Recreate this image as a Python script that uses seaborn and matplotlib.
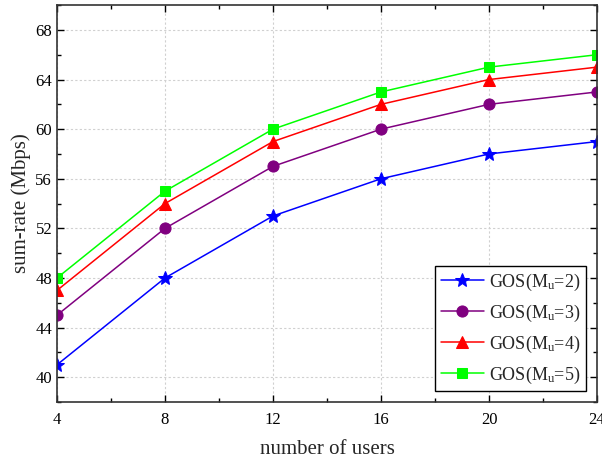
import matplotlib
matplotlib.use("Agg")
import matplotlib.pyplot as plt
import seaborn as sns
import pandas as pd
from matplotlib.ticker import MultipleLocator

users = [4, 8, 12, 16, 20, 24]
mu2 = [41, 48, 53, 56, 58, 59]
mu3 = [45, 52, 57, 60, 62, 63]
mu4 = [47, 54, 59, 62, 64, 65]
mu5 = [48, 55, 60, 63, 65, 66]
labels = ["GOS(M$_\\mathregular{u}$=2)", "GOS(M$_\\mathregular{u}$=3)",
          "GOS(M$_\\mathregular{u}$=4)", "GOS(M$_\\mathregular{u}$=5)"]
colors = ["#0000ff", "#800080", "#ff0000", "#00ff00"]
markers = ["*", "o", "^", "s"]
sizes = [10, 8, 8, 7]

rows = []
for lab, vals in zip(labels, [mu2, mu3, mu4, mu5]):
    for x, y in zip(users, vals):
        rows.append({"users": x, "rate": y, "series": lab})
df = pd.DataFrame(rows)

sns.set_theme(style="ticks")
plt.rcParams["font.family"] = ["Liberation Serif", "DejaVu Serif"]
plt.rcParams["mathtext.fontset"] = "custom"
plt.rcParams["mathtext.rm"] = "Liberation Serif"
plt.rcParams["mathtext.it"] = "Liberation Serif"

fig = plt.figure(figsize=(6.02, 4.62), dpi=100)
ax = fig.add_axes([0.0947, 0.1299, 0.897, 0.859])

for lab, c, m, s in zip(labels, colors, markers, sizes):
    sub = df[df["series"] == lab]
    sns.lineplot(data=sub, x="users", y="rate", ax=ax, color=c, marker=m,
                 markersize=s, markeredgecolor=c, linewidth=1.1, label=lab)

ax.set_xlim(4, 24)
ax.set_ylim(38, 70)
ax.xaxis.set_major_locator(MultipleLocator(4))
ax.xaxis.set_minor_locator(MultipleLocator(2))
ax.yaxis.set_major_locator(MultipleLocator(4))
ax.yaxis.set_minor_locator(MultipleLocator(2))
ax.tick_params(which="both", direction="in", top=True, right=True, labelsize=12,
               colors="black")
ax.tick_params(which="major", length=5, width=1)
ax.tick_params(which="minor", length=3, width=1)
ax.tick_params(axis="x", pad=7)
ax.grid(True, which="major", linestyle=(0, (2, 2)), color="#d0d0d0", linewidth=0.8)
for sp in ax.spines.values():
    sp.set_color("#333333")
    sp.set_linewidth(1.2)

ax.set_xlabel("number of users", fontsize=15, labelpad=9)
ax.set_ylabel("sum-rate (Mbps)", fontsize=15, labelpad=3)

leg = ax.legend(loc="lower right", fontsize=13, frameon=True, fancybox=False,
                edgecolor="black", framealpha=1, borderpad=0.3, labelspacing=0.55,
                handlelength=2.4, handletextpad=0.3, borderaxespad=0.6)
leg.get_frame().set_linewidth(1.0)

fig.savefig("out.png", dpi=100)
